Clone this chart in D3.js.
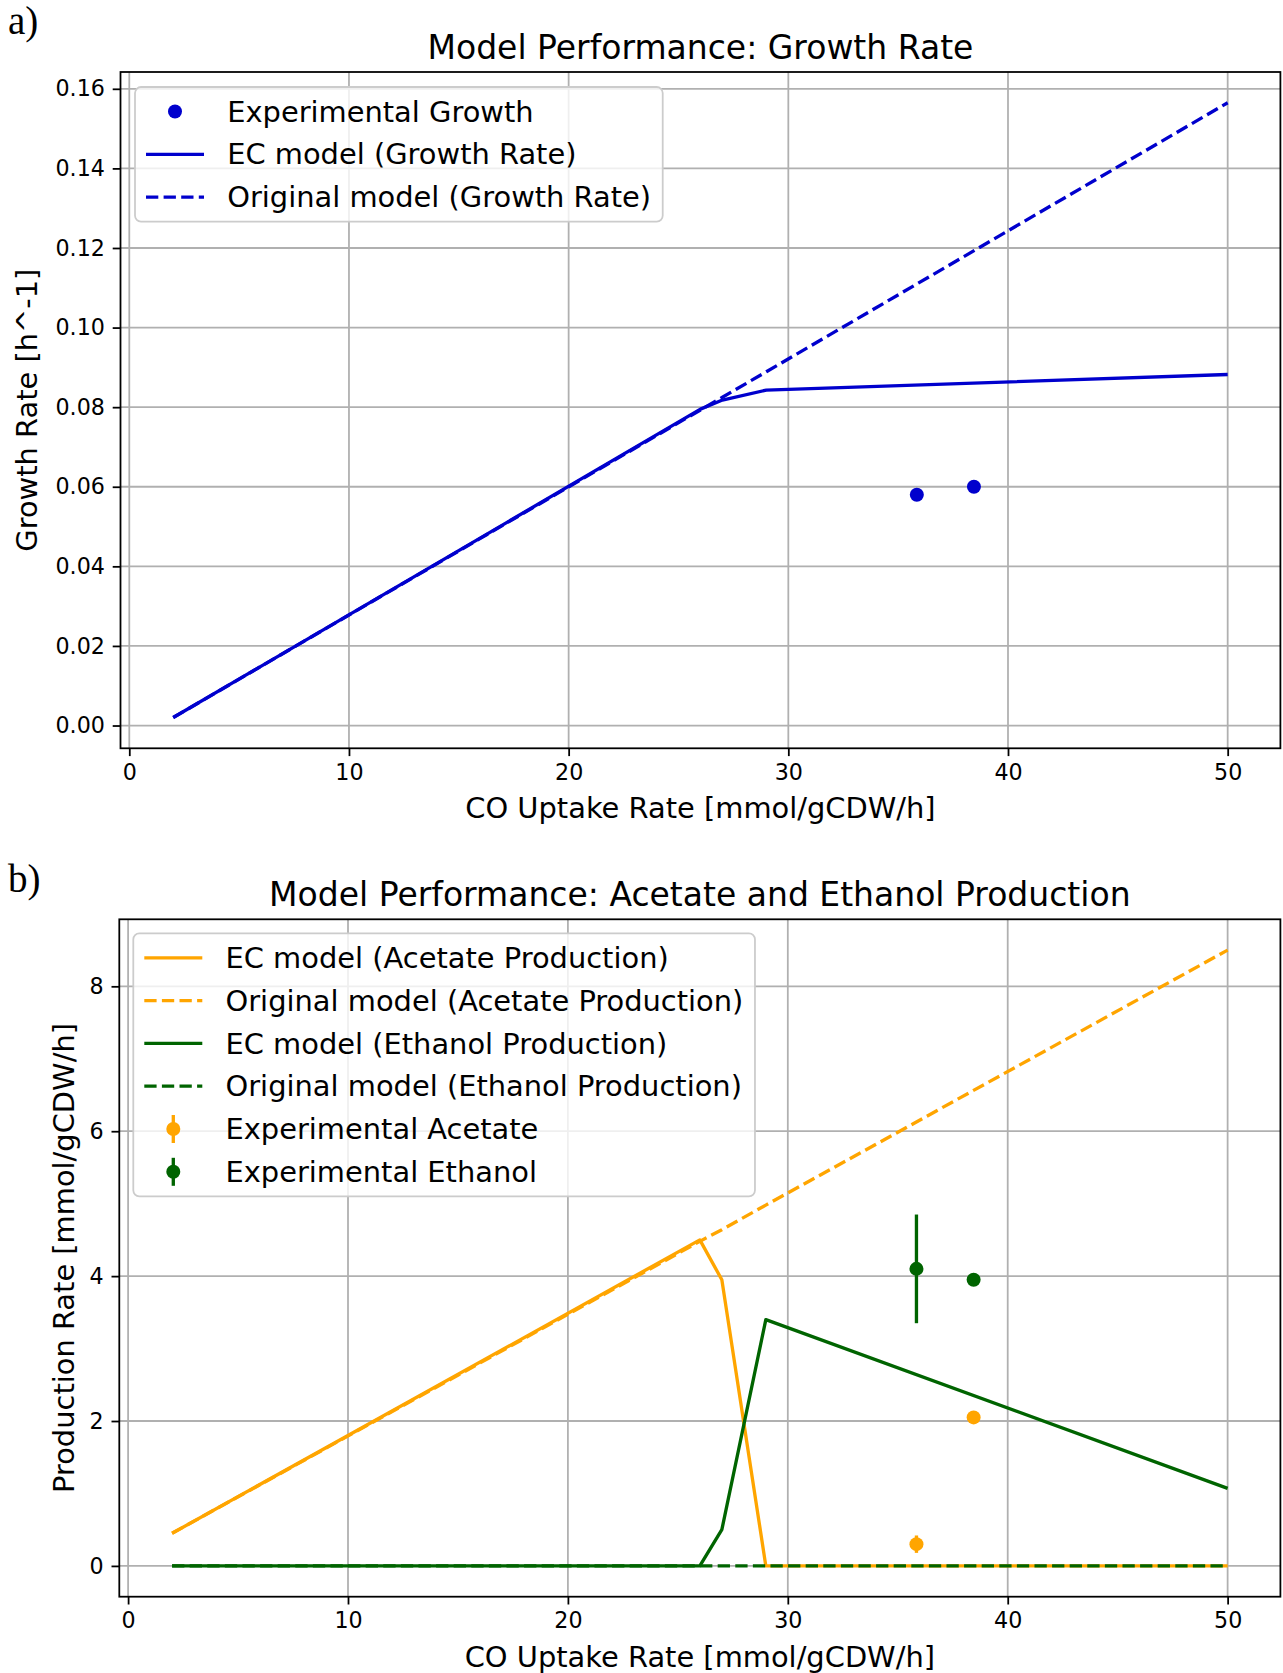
<!DOCTYPE html>
<html>
<head>
<meta charset="utf-8">
<script src="https://cdn.jsdelivr.net/npm/d3@7"></script>
<style>
  html, body { margin: 0; padding: 0; background: #fff; }
  svg { display: block; font-family: "DejaVu Sans", sans-serif; }
</style>
</head>
<body>
<svg id="fig" width="1283" height="1673"></svg>
<script>
// CO uptake rates [mmol/gCDW/h] at which both models were evaluated
const coUptake = [2, 26, 27, 29, 50];

// Growth rate [h^-1]
const ecGrowth   = [0.0020, 0.0795, 0.0818, 0.0843, 0.0882];
const origGrowth = [0.0020, 0.0793, 0.0825, 0.0889, 0.1565];

// Production rates [mmol/gCDW/h]
const ecAcetate   = [0.45, 4.50, 3.95, 0.00, 0.00];
const origAcetate = [0.45, 4.48, 4.64, 4.98, 8.50];
const ecEthanol   = [0.00, 0.00, 0.50, 3.40, 1.07];
const origEthanol = [0.00, 0.00, 0.00, 0.00, 0.00];

// Experimental measurements
const expCO          = [35.85, 38.45];
const expGrowth      = [0.058, 0.060];
const expAcetate     = [0.30, 2.05];
const expAcetateErr  = [0.12, 0.05];
const expEthanol     = [4.10, 3.95];
const expEthanolErr  = [0.75, 0.05];

// Tick values
const xTicks          = [0, 10, 20, 30, 40, 50];
const growthTicks     = [0.00, 0.02, 0.04, 0.06, 0.08, 0.10, 0.12, 0.14, 0.16];
const productionTicks = [0, 2, 4, 6, 8];

const BLUE = "#0000cd", ORANGE = "#ffa500", GREEN = "#006400";
const GRID = "#b0b0b0";
const LW = 3.33, SPINE = 1.78;
const TICK_FS = 22.2, LABEL_FS = 28.9, TITLE_FS = 33;
const DASH = "12.3,5.3";

const svg = d3.select("#fig");
svg.append("rect").attr("width", 1283).attr("height", 1673).attr("fill", "#fff");

// autoscale with 5% margins on each side
function padded(values) {
  const [lo, hi] = d3.extent(values);
  const m = (hi - lo) * 0.05;
  return [lo - m, hi + m];
}

function drawAxes(g, box, x, y, yTicks) {
  // grid
  const grid = g.append("g");
  grid.selectAll("line.vx").data(xTicks).join("line")
    .attr("x1", d => x(d)).attr("x2", d => x(d))
    .attr("y1", box.top).attr("y2", box.bottom)
    .attr("stroke", GRID).attr("stroke-width", SPINE);
  grid.selectAll("line.hy").data(yTicks).join("line")
    .attr("y1", d => y(d)).attr("y2", d => y(d))
    .attr("x1", box.left).attr("x2", box.right)
    .attr("stroke", GRID).attr("stroke-width", SPINE);
}

function finishAxes(g, box, x, y, yTicks, yFmt, texts) {
  // spines
  g.append("rect")
    .attr("x", box.left).attr("y", box.top)
    .attr("width", box.right - box.left).attr("height", box.bottom - box.top)
    .attr("fill", "none").attr("stroke", "#000").attr("stroke-width", SPINE);

  const xa = g.append("g").attr("transform", `translate(0,${box.bottom})`)
    .call(d3.axisBottom(x).tickValues(xTicks).tickSizeInner(7.8).tickSizeOuter(0)
      .tickPadding(7.8).tickFormat(d3.format("d")));
  const ya = g.append("g").attr("transform", `translate(${box.left},0)`)
    .call(d3.axisLeft(y).tickValues(yTicks).tickSizeInner(7.8).tickSizeOuter(0)
      .tickPadding(7.8).tickFormat(d3.format(yFmt)));
  [xa, ya].forEach(a => {
    a.select(".domain").remove();
    a.selectAll(".tick line").attr("stroke", "#000").attr("stroke-width", SPINE);
    a.selectAll(".tick text").attr("fill", "#000")
      .style("font-family", "'DejaVu Sans', sans-serif").style("font-size", TICK_FS + "px");
  });

  const cx = (box.left + box.right) / 2, cy = (box.top + box.bottom) / 2;
  g.append("text").attr("x", cx).attr("y", box.top - 13.5)
    .attr("text-anchor", "middle").attr("font-size", TITLE_FS).text(texts.title);
  g.append("text").attr("x", cx).attr("y", box.bottom + 70)
    .attr("text-anchor", "middle").attr("font-size", LABEL_FS).text(texts.xlabel);
  g.append("text").attr("transform", `translate(${texts.ylabelX},${cy}) rotate(-90)`)
    .attr("text-anchor", "middle").attr("font-size", LABEL_FS).text(texts.ylabel);
}

function drawLegend(g, x0, y0, rows) {
  const lg = g.append("g");
  const frame = lg.append("rect").attr("x", x0).attr("y", y0).attr("rx", 6).attr("ry", 6)
    .attr("fill", "#fff").attr("fill-opacity", 0.8)
    .attr("stroke", "#cccccc").attr("stroke-width", SPINE);
  const hx0 = x0 + 11, hx1 = hx0 + 58, hc = (hx0 + hx1) / 2, tx = hx1 + 23.2;
  const first = y0 + 24.5, gap = 42.8;
  let maxW = 0;
  rows.forEach((r, i) => {
    const cy = first + i * gap;
    if (r.kind === "line" || r.kind === "dash") {
      lg.append("line").attr("x1", hx0).attr("x2", hx1).attr("y1", cy).attr("y2", cy)
        .attr("stroke", r.color).attr("stroke-width", LW)
        .attr("stroke-dasharray", r.kind === "dash" ? DASH : null);
    } else {
      if (r.kind === "err") {
        lg.append("line").attr("x1", hc).attr("x2", hc).attr("y1", cy - 14).attr("y2", cy + 14)
          .attr("stroke", r.color).attr("stroke-width", LW);
      }
      lg.append("circle").attr("cx", hc).attr("cy", cy).attr("r", 7).attr("fill", r.color);
    }
    const t = lg.append("text").attr("x", tx).attr("y", cy).attr("dy", "0.35em")
      .attr("font-size", LABEL_FS).text(r.label);
    maxW = Math.max(maxW, t.node().getComputedTextLength());
  });
  frame.attr("width", tx - x0 + maxW + 11.6)
       .attr("height", 49 + (rows.length - 1) * gap);
}

// ---------- a) growth rate ----------
{
  const box = { left: 120.5, right: 1280.4, top: 72, bottom: 748.3 };
  const x = d3.scaleLinear().domain(padded([...coUptake, ...expCO])).range([box.left, box.right]);
  const y = d3.scaleLinear().domain(padded([...ecGrowth, ...origGrowth, ...expGrowth]))
    .range([box.bottom, box.top]);
  const g = svg.append("g");
  drawAxes(g, box, x, y, growthTicks);

  const line = d3.line().x((d, i) => x(coUptake[i])).y(d => y(d));
  g.append("path").attr("d", line(ecGrowth)).attr("fill", "none")
    .attr("stroke", BLUE).attr("stroke-width", LW).attr("stroke-linejoin", "round");
  g.append("path").attr("d", line(origGrowth)).attr("fill", "none")
    .attr("stroke", BLUE).attr("stroke-width", LW).attr("stroke-dasharray", DASH);
  g.selectAll("circle.exp").data(expGrowth).join("circle")
    .attr("cx", (d, i) => x(expCO[i])).attr("cy", d => y(d)).attr("r", 7).attr("fill", BLUE);

  finishAxes(g, box, x, y, growthTicks, ".2f", {
    title: "Model Performance: Growth Rate",
    xlabel: "CO Uptake Rate [mmol/gCDW/h]",
    ylabel: "Growth Rate [h^-1]",
    ylabelX: 36.5
  });
  drawLegend(g, 135, 87, [
    { label: "Experimental Growth", kind: "dot", color: BLUE },
    { label: "EC model (Growth Rate)", kind: "line", color: BLUE },
    { label: "Original model (Growth Rate)", kind: "dash", color: BLUE }
  ]);
  svg.append("text").attr("x", 8).attr("y", 34)
    .style("font-family", "'Liberation Serif', serif").attr("font-size", 39).text("a)");
}

// ---------- b) acetate and ethanol production ----------
{
  const box = { left: 119.3, right: 1280.4, top: 919.3, bottom: 1596.7 };
  const x = d3.scaleLinear().domain(padded([...coUptake, ...expCO])).range([box.left, box.right]);
  const allY = [...ecAcetate, ...origAcetate, ...ecEthanol, ...origEthanol,
    ...expAcetate.map((v, i) => v + expAcetateErr[i]), ...expAcetate.map((v, i) => v - expAcetateErr[i]),
    ...expEthanol.map((v, i) => v + expEthanolErr[i]), ...expEthanol.map((v, i) => v - expEthanolErr[i])];
  const y = d3.scaleLinear().domain(padded(allY)).range([box.bottom, box.top]);
  const g = svg.append("g");
  drawAxes(g, box, x, y, productionTicks);

  const line = d3.line().x((d, i) => x(coUptake[i])).y(d => y(d));
  const series = [
    { v: ecAcetate, c: ORANGE, dash: false },
    { v: origAcetate, c: ORANGE, dash: true },
    { v: ecEthanol, c: GREEN, dash: false },
    { v: origEthanol, c: GREEN, dash: true }
  ];
  series.forEach(s => {
    g.append("path").attr("d", line(s.v)).attr("fill", "none")
      .attr("stroke", s.c).attr("stroke-width", LW).attr("stroke-linejoin", "round")
      .attr("stroke-dasharray", s.dash ? DASH : null);
  });

  function errorbars(vals, errs, color) {
    vals.forEach((v, i) => {
      g.append("line").attr("x1", x(expCO[i])).attr("x2", x(expCO[i]))
        .attr("y1", y(v - errs[i])).attr("y2", y(v + errs[i]))
        .attr("stroke", color).attr("stroke-width", LW);
      g.append("circle").attr("cx", x(expCO[i])).attr("cy", y(v)).attr("r", 7).attr("fill", color);
    });
  }
  errorbars(expAcetate, expAcetateErr, ORANGE);
  errorbars(expEthanol, expEthanolErr, GREEN);

  finishAxes(g, box, x, y, productionTicks, "d", {
    title: "Model Performance: Acetate and Ethanol Production",
    xlabel: "CO Uptake Rate [mmol/gCDW/h]",
    ylabel: "Production Rate [mmol/gCDW/h]",
    ylabelX: 74
  });
  drawLegend(g, 133.3, 933.3, [
    { label: "EC model (Acetate Production)", kind: "line", color: ORANGE },
    { label: "Original model (Acetate Production)", kind: "dash", color: ORANGE },
    { label: "EC model (Ethanol Production)", kind: "line", color: GREEN },
    { label: "Original model (Ethanol Production)", kind: "dash", color: GREEN },
    { label: "Experimental Acetate", kind: "err", color: ORANGE },
    { label: "Experimental Ethanol", kind: "err", color: GREEN }
  ]);
  svg.append("text").attr("x", 8).attr("y", 892)
    .style("font-family", "'Liberation Serif', serif").attr("font-size", 39).text("b)");
}
</script>
</body>
</html>
